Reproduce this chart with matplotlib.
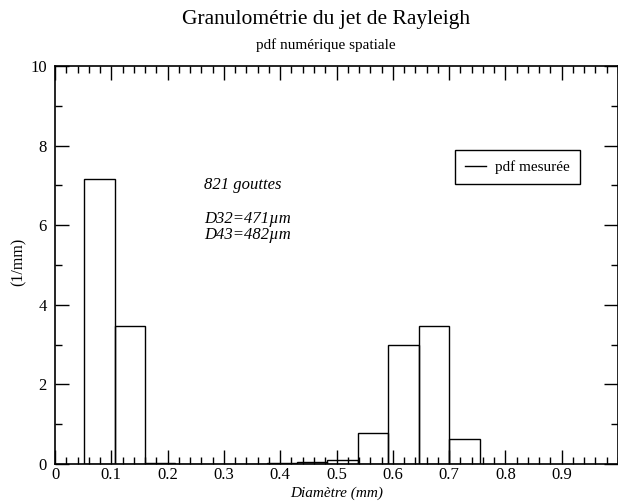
import matplotlib
matplotlib.use("Agg")
import matplotlib.pyplot as plt
from matplotlib.lines import Line2D
from matplotlib.ticker import MultipleLocator

plt.rcParams['font.family'] = ['Liberation Serif', 'DejaVu Serif']

# Data
bin_left = [0.052, 0.106, 0.160, 0.214, 0.268, 0.322, 0.376, 0.430, 0.484, 0.538, 0.592, 0.646, 0.700]
bin_width = 0.054
pdf_values = [7.17, 3.46, 0.02, 0.0, 0.0, 0.0, 0.02, 0.04, 0.09, 0.78, 3.00, 3.46, 0.62]
x_ticks = [0, 0.1, 0.2, 0.3, 0.4, 0.5, 0.6, 0.7, 0.8, 0.9]
x_tick_labels = ["0", "0.1", "0.2", "0.3", "0.4", "0.5", "0.6", "0.7", "0.8", "0.9"]
y_ticks = [0, 2, 4, 6, 8, 10]

W, H = 618, 501
fig = plt.figure(figsize=(W / 100, H / 100), dpi=100)
ax = fig.add_axes([55/W, 37/H, 563/W, 398/H])

ax.bar(bin_left, pdf_values, width=bin_width, align='edge',
       facecolor='none', edgecolor='black', linewidth=1.0)

ax.set_xlim(0, 1.0)
ax.set_ylim(0, 10)
ax.set_xticks(x_ticks)
ax.set_xticklabels(x_tick_labels)
ax.set_yticks(y_ticks)
ax.xaxis.set_minor_locator(MultipleLocator(0.02))
ax.yaxis.set_minor_locator(MultipleLocator(1))
ax.tick_params(which='both', direction='in', top=True, right=True, labelsize=12)
ax.tick_params(axis='x', which='both', pad=2.5)
ax.tick_params(axis='y', which='both', pad=6)
ax.tick_params(which='major', length=10, width=1)
ax.tick_params(which='minor', length=5, width=1)
for s in ax.spines.values():
    s.set_linewidth(1.2)

# Axis labels placed in figure pixels
fig.text((55 + 563 / 2) / W, 0.5 / H, "Diamètre (mm)", ha='center', va='bottom',
         fontsize=11, style='italic')
fig.text(19 / W, 1 - 262 / H, "(1/mm)", ha='center', va='center',
         fontsize=11.5, rotation=90)

fig.text(0.527, 0.962, "Granulométrie du jet de Rayleigh", ha='center', va='center', fontsize=15.5)
fig.text(0.527, 0.910, "pdf numérique spatiale", ha='center', va='center', fontsize=11)

ax.text(0.265, 7.0, "821 gouttes", fontsize=12, style='italic', va='center')
ax.text(0.265, 6.15, "D32=471µm", fontsize=12, style='italic', va='center')
ax.text(0.265, 5.75, "D43=482µm", fontsize=12, style='italic', va='center')

handle = Line2D([], [], color='black', linewidth=1.0)
leg = ax.legend([handle], ["pdf mesurée"], loc='upper left',
                bbox_to_anchor=(0.71, 0.788), borderaxespad=0, fontsize=11,
                frameon=True, fancybox=False, edgecolor='black',
                handlelength=1.4, handletextpad=0.6,
                borderpad=0.65, framealpha=1)
leg.get_frame().set_linewidth(1.0)

fig.savefig("out.png", dpi=100)
